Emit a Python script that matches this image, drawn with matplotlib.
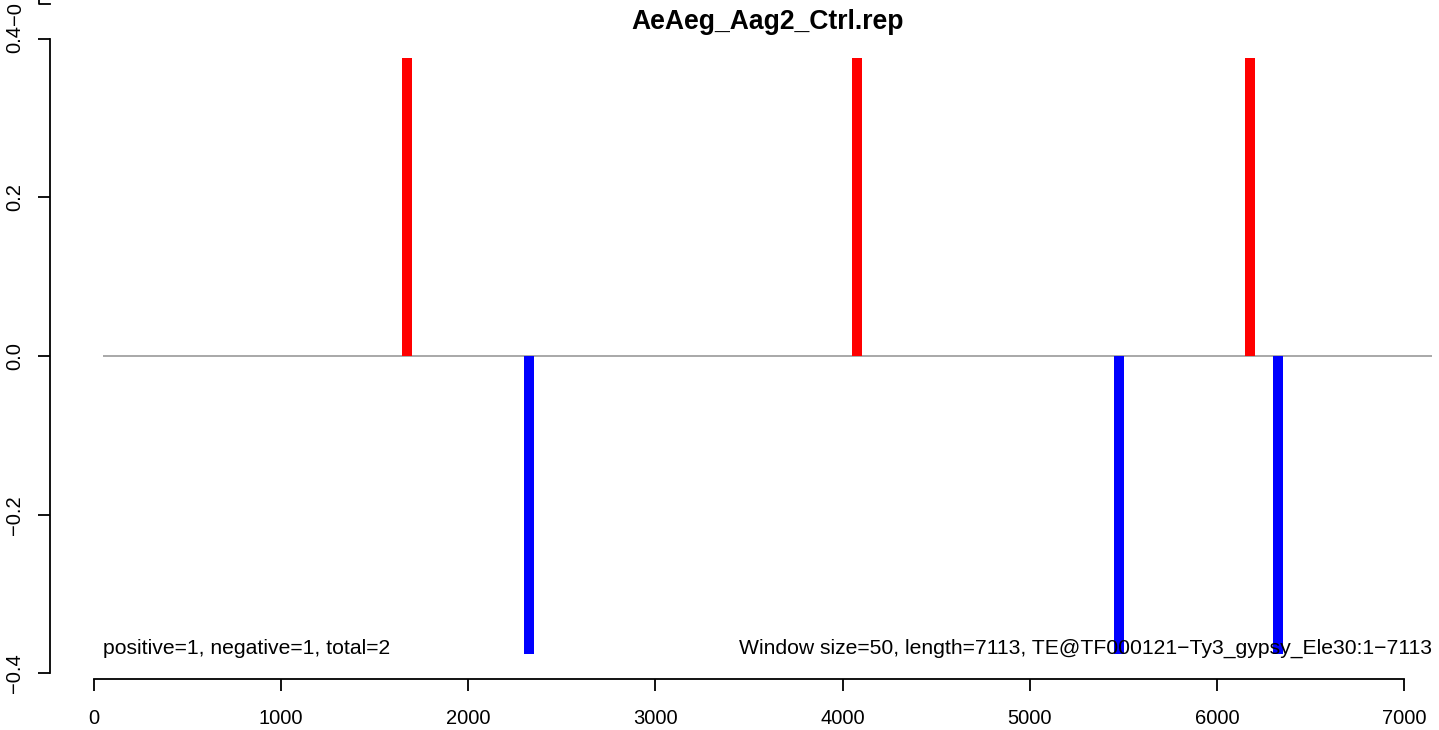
import numpy as np
import matplotlib.pyplot as plt
from matplotlib.lines import Line2D

plt.rcParams['font.family'] = ['Liberation Sans', 'DejaVu Sans']

# data
title = "AeAeg_Aag2_Ctrl.rep"
pos_x = [1675, 4075, 6175]
pos_y = [0.375, 0.375, 0.375]
neg_x = [2325, 5475, 6325]
neg_y = [-0.375, -0.375, -0.375]
line_start, line_end = 50, 7150
xticks = [0, 1000, 2000, 3000, 4000, 5000, 6000, 7000]
yticks = [-0.4, -0.2, 0.0, 0.2, 0.4]
left_note = "positive=1, negative=1, total=2"
right_note = "Window size=50, length=7113, TE@TF000121\u2212Ty3_gypsy_Ele30:1\u22127113"

W, H = 1439, 730
fig = plt.figure(figsize=(W / 100, H / 100), dpi=100)
ax = fig.add_axes([50 / W, (H - 679) / H, 1 - 50 / W, (679 - 33) / H])

ax.set_xlim(-235, 7187)
ax.set_ylim(-0.407, 0.407)

# zero line, then the bars
ax.hlines(0, line_start, line_end, color='#9a9a9a', lw=1.2, zorder=1)
ax.bar(pos_x, pos_y, width=53, color='red', zorder=2)
ax.bar(neg_x, neg_y, width=53, color='blue', zorder=2)

ax.text(line_start, -0.368, left_note, ha='left', va='center', fontsize=15.25)
ax.text(line_end, -0.368, right_note, ha='right', va='center', fontsize=15.25)

# R-style axes
for s in ['top', 'right']:
    ax.spines[s].set_visible(False)
ax.spines['left'].set_bounds(-0.4, 0.4)
ax.spines['bottom'].set_bounds(0, 7000)
ax.spines['left'].set_linewidth(1.3)
ax.spines['bottom'].set_linewidth(1.3)
ax.set_xticks(xticks)
ax.set_xticklabels([str(t) for t in xticks])
ax.set_yticks(yticks)
ax.set_yticklabels(['\u22120.4', '\u22120.2', '0.0', '0.2', '0.4'], rotation=90, va='center')
ax.tick_params(axis='both', length=8.5, width=1.3, labelsize=14.5)
ax.tick_params(axis='x', pad=13)
ax.tick_params(axis='y', pad=10)

fig.text(768 / W, 1 - 22 / H, title, ha='center', va='center', fontsize=19.1, fontweight='bold')

# leftovers of the panel above at the top-left corner
fig.text(15 / W, 1 - 14 / H, '\u22120', rotation=90, ha='center', va='center', fontsize=14.5)
fig.add_artist(Line2D([39 / W, 39 / W, 50 / W], [1.0, 1 - 4 / H, 1 - 4 / H], color='black', lw=1.3))

fig.savefig('out.png', dpi=100)
